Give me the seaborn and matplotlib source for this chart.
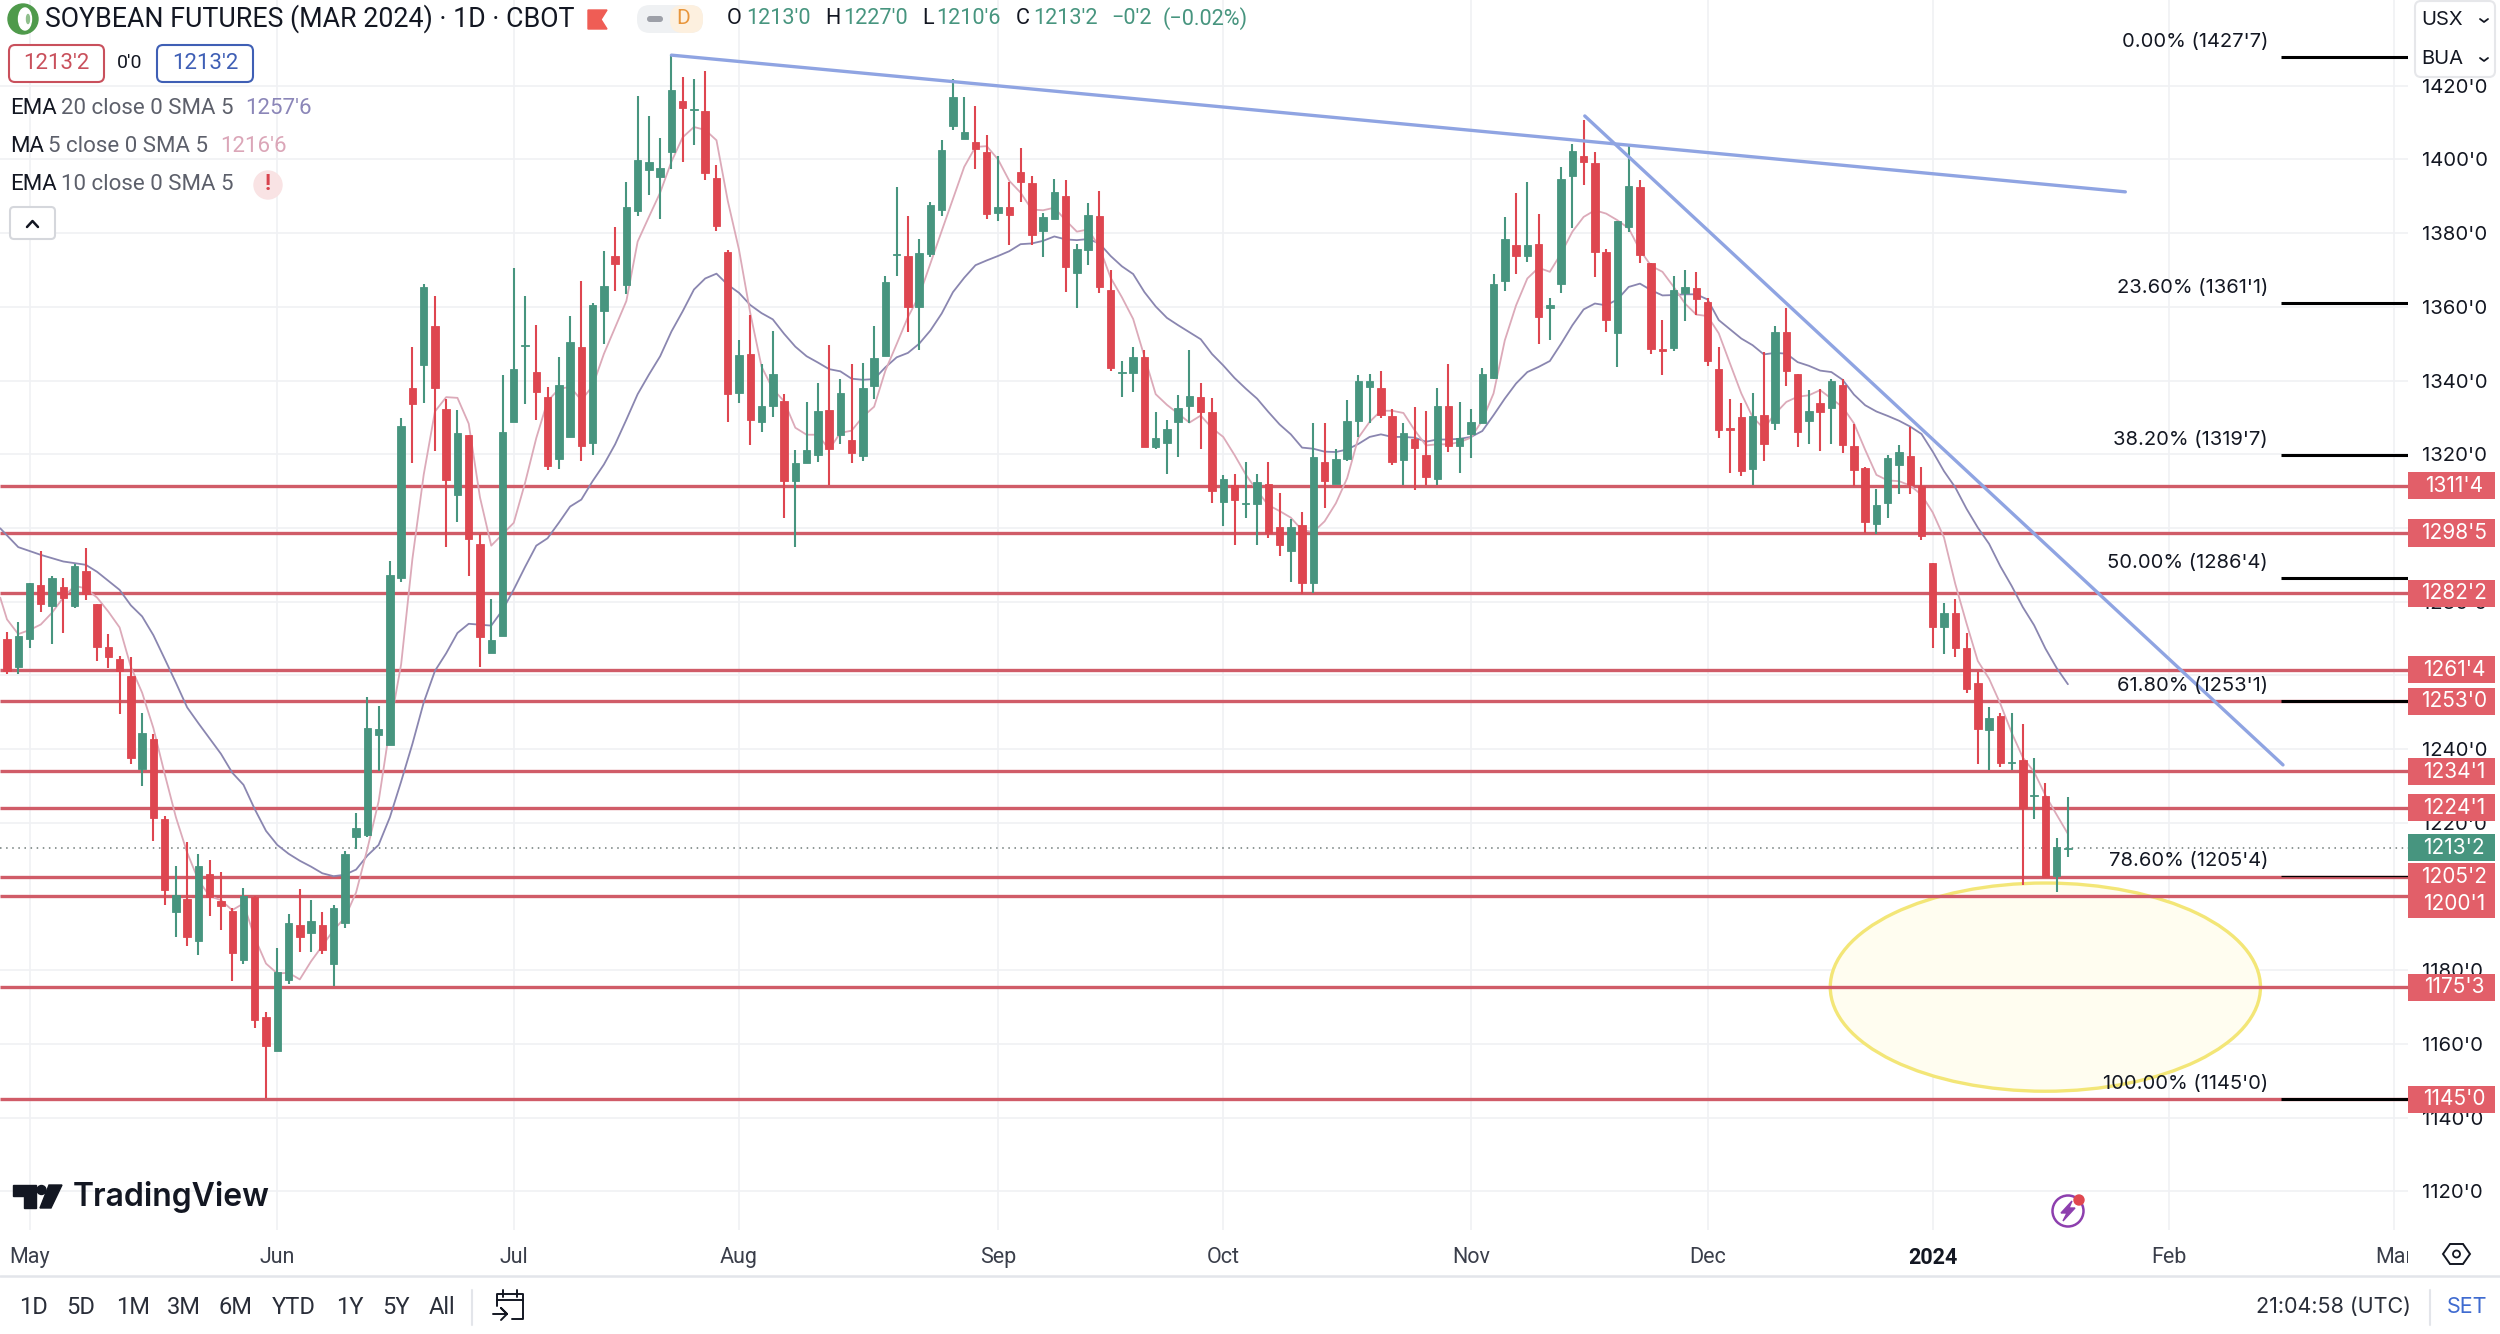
import pandas as pd
import matplotlib.pyplot as plt
import seaborn as sns
from matplotlib.patches import Circle, Ellipse, FancyBboxPatch, Polygon, Rectangle
from matplotlib.transforms import Bbox

# daily bars
opens = [1269.8, 1262.3, 1270.0, 1284.5, 1278.7, 1284.0, 1278.7, 1288.3, 1279.3, 1267.7,
         1264.4, 1259.8, 1234.6, 1242.8, 1221.0, 1195.8, 1199.3, 1188.0, 1206.1, 1198.8,
         1196.0, 1182.7, 1199.8, 1167.3, 1158.0, 1177.3, 1192.3, 1190.0, 1192.3, 1181.6,
         1192.8, 1216.1, 1216.6, 1243.9, 1241.2, 1286.3, 1337.9, 1344.3, 1354.7, 1332.4,
         1308.9, 1325.2, 1295.6, 1266.0, 1270.8, 1328.8, 1349.4, 1342.2, 1335.4, 1318.7,
         1324.6, 1349.0, 1323.0, 1359.0, 1373.9, 1365.9, 1386.0, 1397.0, 1395.2, 1402.1,
         1415.8, 1413.4, 1413.1, 1395.0, 1374.9, 1336.6, 1347.2, 1328.8, 1333.0, 1334.5,
         1312.7, 1317.6, 1319.7, 1331.9, 1325.2, 1323.8, 1319.4, 1338.6, 1346.7, 1374.1,
         1373.8, 1359.9, 1374.3, 1386.4, 1409.1, 1405.6, 1404.7, 1402.1, 1385.4, 1387.2,
         1396.5, 1393.7, 1380.6, 1383.9, 1390.2, 1369.1, 1375.4, 1384.6, 1364.6, 1342.1,
         1342.1, 1346.4, 1322.1, 1323.0, 1328.8, 1333.0, 1335.4, 1331.5, 1307.0, 1311.6,
         1306.6, 1306.4, 1311.8, 1300.3, 1293.8, 1300.9, 1285.0, 1317.8, 1311.8, 1318.7,
         1329.0, 1338.3, 1337.9, 1330.4, 1318.4, 1324.2, 1319.8, 1313.3, 1333.2, 1322.2,
         1325.6, 1328.6, 1340.8, 1366.9, 1376.9, 1373.8, 1377.0, 1359.6, 1366.2, 1395.4,
         1401.0, 1398.9, 1374.9, 1352.8, 1381.7, 1392.6, 1371.9, 1348.6, 1348.9, 1363.8,
         1365.2, 1361.4, 1343.0, 1327.1, 1330.0, 1315.9, 1330.7, 1328.5, 1353.1, 1341.7,
         1328.9, 1333.8, 1332.6, 1338.9, 1322.2, 1316.4, 1301.0, 1306.8, 1317.2, 1319.4,
         1311.4, 1290.4, 1273.2, 1277.0, 1267.3, 1257.9, 1245.2, 1248.9, 1236.3, 1236.9,
         1227.2, 1227.2, 1205.6, 1213.0]
highs = [1271.7, 1274.4, 1285.1, 1293.8, 1287.0, 1286.4, 1290.2, 1294.5, 1279.3, 1271.2,
         1265.2, 1264.9, 1249.9, 1244.1, 1221.8, 1208.3, 1214.9, 1211.5, 1209.9, 1206.7,
         1196.8, 1202.2, 1200.1, 1168.7, 1185.9, 1195.3, 1202.0, 1199.0, 1195.8, 1197.7,
         1212.3, 1222.6, 1254.0, 1251.8, 1291.1, 1329.8, 1349.2, 1366.3, 1362.9, 1334.9,
         1331.9, 1325.2, 1298.3, 1280.7, 1341.4, 1370.5, 1362.9, 1355.1, 1338.3, 1346.5,
         1357.5, 1366.9, 1361.1, 1375.2, 1381.6, 1393.8, 1417.1, 1411.8, 1405.7, 1428.3,
         1422.3, 1421.9, 1423.9, 1398.5, 1375.5, 1351.0, 1357.7, 1344.4, 1353.4, 1336.3,
         1321.2, 1334.2, 1339.2, 1349.6, 1340.5, 1344.4, 1344.7, 1354.7, 1368.4, 1392.4,
         1384.6, 1378.4, 1388.5, 1405.3, 1421.9, 1417.0, 1414.6, 1406.5, 1401.0, 1394.0,
         1403.1, 1395.6, 1385.4, 1394.7, 1394.5, 1377.1, 1388.3, 1391.5, 1369.9, 1345.2,
         1349.0, 1348.3, 1331.5, 1329.2, 1336.1, 1348.2, 1339.4, 1335.2, 1314.3, 1314.7,
         1317.9, 1314.7, 1317.9, 1309.6, 1302.3, 1304.2, 1328.6, 1328.6, 1321.3, 1334.7,
         1341.6, 1341.9, 1342.6, 1332.4, 1328.5, 1332.7, 1331.8, 1338.0, 1344.6, 1334.2,
         1332.4, 1343.5, 1369.0, 1384.4, 1391.0, 1393.9, 1385.1, 1362.5, 1398.0, 1404.2,
         1410.7, 1401.9, 1375.6, 1383.3, 1403.9, 1394.4, 1371.9, 1356.4, 1368.4, 1369.9,
         1369.5, 1362.4, 1349.0, 1335.1, 1333.8, 1336.5, 1347.8, 1354.7, 1359.8, 1341.9,
         1337.4, 1337.7, 1340.5, 1340.5, 1328.3, 1316.5, 1310.5, 1319.7, 1322.6, 1327.3,
         1316.5, 1290.6, 1279.7, 1280.7, 1271.4, 1261.0, 1251.5, 1249.9, 1249.8, 1246.7,
         1237.6, 1230.9, 1215.9, 1227.0]
lows = [1260.4, 1260.4, 1267.5, 1277.1, 1268.4, 1271.4, 1278.2, 1280.4, 1263.9, 1262.1,
        1249.4, 1236.0, 1230.1, 1215.1, 1197.7, 1189.1, 1186.5, 1184.2, 1194.7, 1190.8,
        1177.1, 1181.8, 1164.2, 1145.3, 1158.0, 1176.2, 1185.0, 1184.8, 1184.5, 1175.6,
        1191.5, 1212.9, 1216.2, 1234.0, 1241.2, 1285.2, 1317.6, 1334.0, 1320.8, 1294.7,
        1301.6, 1286.9, 1262.2, 1266.0, 1270.8, 1328.8, 1333.6, 1329.2, 1315.8, 1316.0,
        1324.6, 1318.1, 1319.9, 1350.0, 1364.3, 1363.4, 1384.7, 1390.3, 1383.8, 1397.4,
        1399.4, 1404.0, 1394.4, 1380.5, 1328.8, 1334.0, 1322.4, 1326.0, 1330.1, 1302.7,
        1294.9, 1317.6, 1318.0, 1311.6, 1322.7, 1317.7, 1318.1, 1334.9, 1346.7, 1368.4,
        1353.2, 1348.3, 1373.5, 1384.7, 1408.0, 1405.6, 1397.3, 1383.7, 1383.2, 1376.9,
        1388.5, 1376.7, 1373.6, 1383.9, 1363.9, 1359.7, 1371.3, 1363.7, 1342.5, 1335.6,
        1336.8, 1322.1, 1321.3, 1314.7, 1319.3, 1328.6, 1321.5, 1306.9, 1300.6, 1295.5,
        1302.8, 1295.5, 1297.2, 1292.3, 1285.3, 1282.2, 1282.4, 1305.5, 1311.8, 1318.2,
        1324.7, 1328.5, 1329.9, 1317.2, 1311.6, 1310.2, 1311.6, 1311.6, 1320.6, 1314.9,
        1319.0, 1328.6, 1340.3, 1364.2, 1368.8, 1372.2, 1349.8, 1351.1, 1363.8, 1381.3,
        1393.0, 1368.0, 1353.2, 1343.7, 1380.4, 1371.9, 1347.1, 1341.4, 1348.0, 1356.1,
        1357.7, 1343.9, 1324.5, 1314.9, 1314.2, 1311.6, 1318.1, 1326.7, 1338.5, 1322.0,
        1322.9, 1320.8, 1322.7, 1320.4, 1311.5, 1298.7, 1298.4, 1302.7, 1309.2, 1309.2,
        1296.7, 1267.4, 1265.9, 1264.9, 1255.1, 1236.0, 1234.3, 1235.1, 1234.3, 1203.0,
        1220.9, 1205.3, 1201.1, 1210.75]
closes = [1261.2, 1270.7, 1285.1, 1279.3, 1286.5, 1280.9, 1289.8, 1282.1, 1267.8, 1265.1,
          1261.2, 1237.6, 1244.3, 1221.2, 1201.7, 1200.4, 1188.9, 1208.4, 1199.8, 1197.3,
          1184.7, 1200.1, 1166.4, 1159.5, 1179.4, 1192.9, 1188.9, 1193.3, 1185.5, 1196.9,
          1211.6, 1218.5, 1245.6, 1245.4, 1287.3, 1327.7, 1333.5, 1365.4, 1337.9, 1312.9,
          1325.7, 1296.9, 1270.3, 1269.7, 1326.0, 1343.0, 1349.6, 1336.9, 1316.9, 1338.7,
          1350.4, 1322.2, 1360.6, 1365.6, 1371.7, 1387.0, 1399.8, 1399.4, 1397.7, 1418.9,
          1414.0, 1413.6, 1396.3, 1382.0, 1336.3, 1346.9, 1329.2, 1333.0, 1341.7, 1312.7,
          1317.6, 1321.2, 1331.6, 1321.3, 1336.7, 1320.3, 1338.0, 1346.0, 1366.8, 1374.4,
          1359.9, 1374.7, 1387.7, 1402.6, 1417.0, 1407.5, 1402.8, 1385.2, 1387.2, 1384.9,
          1394.0, 1379.6, 1384.3, 1391.2, 1370.7, 1375.7, 1385.0, 1365.5, 1343.3, 1342.4,
          1346.5, 1322.1, 1324.5, 1326.9, 1332.6, 1335.7, 1331.5, 1310.1, 1313.2, 1307.5,
          1306.9, 1312.5, 1298.7, 1295.5, 1300.3, 1285.0, 1319.3, 1312.7, 1318.7, 1329.0,
          1339.9, 1339.9, 1330.6, 1317.9, 1325.9, 1321.7, 1313.7, 1333.2, 1322.3, 1324.4,
          1328.7, 1341.8, 1366.3, 1378.4, 1373.8, 1376.9, 1357.3, 1360.6, 1394.8, 1402.3,
          1399.3, 1374.9, 1356.3, 1383.2, 1392.8, 1374.0, 1348.5, 1348.0, 1364.5, 1365.4,
          1362.1, 1345.2, 1326.5, 1326.5, 1315.5, 1330.3, 1322.8, 1353.1, 1342.7, 1326.1,
          1331.8, 1331.5, 1339.9, 1322.4, 1315.6, 1301.6, 1306.2, 1319.0, 1320.5, 1311.6,
          1297.9, 1273.2, 1276.9, 1267.4, 1256.2, 1245.4, 1248.4, 1236.1, 1236.6, 1224.1,
          1227.5, 1205.3, 1213.4, 1213.25]

ema_x = [-0.6, 1, 3, 5, 7, 8, 10, 11, 12, 13, 14, 15, 16, 17, 19, 20, 21, 22, 23, 24, 25, 26, 27, 28, 29,
         30, 31, 32, 33, 34, 35, 36, 37, 38, 39, 40, 41, 43, 44, 45, 46, 47, 48, 49, 50, 51, 52, 53, 54,
         55, 56, 57, 58, 59, 60, 61, 62, 63, 64, 65, 66, 67, 68, 69, 70, 71, 72, 73, 74, 75, 76, 77, 78,
         79, 80, 81, 82, 83, 84, 85, 86, 87, 88, 89, 90, 91, 92, 93, 94, 95, 96, 97, 98, 99, 100, 101,
         102, 103, 104, 105, 106, 107, 108, 109, 110, 111, 112, 113, 114, 115, 116, 117, 118, 119, 120,
         121, 122, 123, 124, 125, 126, 127, 128, 129, 130, 131, 132, 133, 134, 135, 136, 137, 138, 139,
         140, 141, 142, 143, 144, 145, 146, 147, 148, 149, 150, 151, 152, 154, 155, 156, 157, 158, 159,
         160, 161, 162, 163, 164, 165, 166, 167, 168, 169, 170, 171, 172, 173, 174, 175, 176, 177, 178,
         179, 180, 181, 182, 183]
ema20 = [1299.9, 1294.8, 1292.7, 1290.9, 1290.0, 1288.1, 1283.2, 1279.0, 1276.0, 1270.9, 1264.5, 1258.0,
         1251.3, 1247.0, 1238.7, 1233.6, 1230.3, 1223.7, 1217.8, 1214.0, 1211.6, 1209.7, 1208.1, 1206.3,
         1205.5, 1205.9, 1207.3, 1211.1, 1214.0, 1221.5, 1231.2, 1241.4, 1252.6, 1261.2, 1266.0, 1271.5,
         1274.0, 1273.5, 1277.7, 1283.3, 1289.4, 1295.2, 1297.2, 1301.4, 1305.8, 1307.7, 1312.7, 1317.2,
         1322.7, 1329.4, 1336.3, 1341.6, 1346.6, 1353.3, 1358.8, 1364.7, 1367.7, 1369.0, 1366.0, 1363.8,
         1360.5, 1358.3, 1356.6, 1352.7, 1349.2, 1346.6, 1344.9, 1343.1, 1342.5, 1340.5, 1340.2, 1340.4,
         1343.6, 1346.3, 1347.5, 1350.0, 1353.6, 1358.2, 1364.0, 1367.9, 1371.3, 1372.6, 1373.8, 1375.1,
         1377.0, 1377.2, 1377.9, 1379.1, 1378.3, 1378.1, 1378.4, 1377.2, 1373.8, 1371.0, 1368.9, 1364.0,
         1360.1, 1357.0, 1355.0, 1353.1, 1351.2, 1347.2, 1344.1, 1340.7, 1337.8, 1335.1, 1331.5, 1328.1,
         1325.4, 1321.8, 1321.5, 1320.7, 1320.6, 1321.3, 1322.8, 1324.7, 1325.4, 1324.7, 1324.7, 1324.5,
         1323.4, 1324.0, 1324.0, 1324.2, 1324.7, 1326.3, 1330.6, 1335.1, 1339.2, 1342.3, 1343.7, 1345.3,
         1350.0, 1355.0, 1359.3, 1360.9, 1360.4, 1362.0, 1365.4, 1366.3, 1364.5, 1363.1, 1363.2, 1363.4,
         1363.4, 1362.0, 1356.4, 1351.4, 1349.6, 1347.1, 1347.5, 1347.3, 1345.0, 1344.0, 1342.7, 1342.3,
         1340.2, 1336.2, 1333.3, 1331.6, 1330.4, 1329.1, 1327.5, 1325.5, 1320.7, 1315.4, 1311.0, 1305.2,
         1300.1, 1295.7, 1289.6, 1284.3, 1278.5, 1273.6, 1267.3, 1262.0, 1257.6]

ma_x = [-0.6] + list(range(0, 184))
ma5 = [1281.1, 1275.2, 1271.2, 1272.3, 1273.8, 1277.0, 1281.1, 1284.3, 1283.6, 1281.1, 1277.3,
       1273.0, 1262.3, 1255.3, 1245.7, 1233.3, 1221.5, 1211.9, 1204.4, 1200.1, 1199.0,
       1196.3, 1198.1, 1188.8, 1181.8, 1179.1, 1179.3, 1177.5, 1182.4, 1186.6, 1190.9,
       1194.2, 1201.1, 1212.9, 1225.8, 1246.0, 1263.0, 1291.6, 1314.4, 1331.6, 1335.5,
       1335.3, 1328.3, 1308.3, 1295.2, 1298.3, 1301.4, 1312.2, 1324.4, 1334.4, 1337.7,
       1338.3, 1334.7, 1338.5, 1347.2, 1354.4, 1361.6, 1377.7, 1384.4, 1391.0, 1399.4,
       1406.0, 1408.8, 1408.0, 1405.2, 1388.8, 1375.5, 1358.3, 1343.8, 1337.7, 1334.4,
       1327.2, 1325.3, 1325.3, 1321.3, 1325.8, 1326.4, 1330.2, 1332.9, 1342.7, 1349.9,
       1357.2, 1363.0, 1371.8, 1380.6, 1389.3, 1398.0, 1403.4, 1403.6, 1400.0, 1394.2,
       1391.0, 1386.4, 1386.2, 1386.9, 1383.5, 1380.4, 1381.0, 1376.2, 1367.9, 1362.6,
       1356.7, 1346.5, 1336.3, 1333.4, 1331.0, 1328.6, 1330.5, 1327.1, 1324.7, 1319.8,
       1314.5, 1310.1, 1306.2, 1304.6, 1302.8, 1299.4, 1298.9, 1301.8, 1306.7, 1313.5,
       1324.5, 1328.8, 1331.8, 1331.8, 1331.2, 1326.5, 1322.4, 1322.7, 1322.7, 1323.3,
       1324.5, 1329.2, 1336.5, 1350.9, 1360.4, 1367.7, 1370.6, 1369.5, 1374.5, 1380.4,
       1384.4, 1386.2, 1385.3, 1383.5, 1381.3, 1375.4, 1371.1, 1369.5, 1365.4, 1360.9,
       1357.9, 1357.5, 1352.8, 1344.6, 1336.5, 1330.1, 1327.0, 1331.0, 1334.2, 1335.6,
       1336.0, 1337.4, 1335.1, 1332.8, 1328.4, 1321.2, 1314.4, 1312.9, 1312.7, 1311.5,
       1309.0, 1304.2, 1297.4, 1284.8, 1274.1, 1263.9, 1259.1, 1252.3, 1244.5, 1237.7,
       1233.8, 1227.5, 1222.2, 1217.0]

level_prices = [1311.5, 1298.625, 1282.25, 1261.5, 1253.0, 1234.125, 1224.125, 1205.25, 1200.125, 1175.375, 1145.0]
level_labels = ["1311'4", "1298'5", "1282'2", "1261'4", "1253'0", "1234'1", "1224'1", "1205'2", "1200'1", "1175'3", "1145'0"]
level_tag_y = [1311.5, 1298.625, 1282.25, 1261.5, 1253.0, 1233.9, 1224.125, 1205.25, 1197.9, 1175.375, 1145.0]

fib_prices = [1427.875, 1361.125, 1319.875, 1286.5, 1253.125, 1205.5, 1145.0]
fib_labels = ["0.00% (1427'7)", "23.60% (1361'1)", "38.20% (1319'7)", "50.00% (1286'4)",
              "61.80% (1253'1)", "78.60% (1205'4)", "100.00% (1145'0)"]

trend_x = [[59, 188.1], [140.1, 202.1]]
trend_y = [[1428.3, 1391.2], [1411.8, 1235.7]]

month_bars = [2, 24, 45, 65, 88, 108, 130, 151, 171, 192, 212]
month_labels = ["May", "Jun", "Jul", "Aug", "Sep", "Oct", "Nov", "Dec", "2024", "Feb", "Mar"]
price_ticks = list(range(1120, 1421, 20))
last_price = 1213.25

range_labels = ["1D", "5D", "1M", "3M", "6M", "YTD", "1Y", "5Y", "All"]
range_x = [33, 81, 133, 184, 236, 294, 350, 396, 442]

GREEN = "#47957f"
RED = "#de4650"
LEVEL = "#d05c68"
TAG = "#e25f69"
BLUE = "#8fa4e2"
PINK = "#dcaab9"
PURPLE = "#8a86b0"
INK = "#131722"
GREY = "#5d606b"

sns.set_theme(style="white")
plt.rcParams["font.family"] = ["Inter", "DejaVu Sans"]

df = pd.DataFrame({"open": opens, "high": highs, "low": lows, "close": closes})
df["bar"] = df.index
df["top"] = df[["open", "close"]].max(axis=1)
df["bot"] = df[["open", "close"]].min(axis=1)
df["color"] = [GREEN if c >= o else RED for o, c in zip(df["open"], df["close"])]

W, H = 2500, 1334
fig = plt.figure(figsize=(25, 13.34), dpi=100, facecolor="white")
ax = fig.add_axes([0, (H - 1230) / H, 2408 / W, 1230 / H], zorder=1)
ax.set_xlim(-0.62, 213.2)
ax.set_ylim(1109.5, 1443.26)

# grid
ax.set_xticks(month_bars)
ax.set_xticklabels(month_labels, fontsize=15.5, color="#3a3e4a", family="Roboto")
ax.set_yticks(price_ticks)
ax.set_yticklabels([f"{p}'0" for p in price_ticks], fontsize=14.6, color=INK)
ax.yaxis.tick_right()
ax.tick_params(axis="x", length=0, pad=12)
ax.tick_params(axis="y", length=0, pad=10)
ax.grid(True, color="#f0f1f4", lw=1.2)
ax.set_axisbelow(True)
for spine in ax.spines.values():
    spine.set_visible(False)
clip = Bbox([[0, 0], [2408, H]])
for lab in ax.get_xticklabels():
    lab.set_clip_box(clip)
    lab.set_clip_on(True)
    if lab.get_text() == "2024":
        lab.set_fontweight("bold")
        lab.set_color(INK)

# target ellipse
ax.add_patch(Ellipse((181, 1175.4), 38.2, 56.5, facecolor="#fffdf0", edgecolor="none", zorder=1.5))
ax.add_patch(Ellipse((181, 1175.4), 38.2, 56.5, facecolor="none", edgecolor="#f3e677", lw=2.4, zorder=1.6))

# support and resistance
ax.hlines(level_prices, -0.62, 213.2, color=LEVEL, lw=2.4, zorder=2)
ax.hlines(last_price, -0.62, 213.2, color="#6f7a78", lw=1.1, linestyles=(0, (1, 3)), zorder=2.1)

# moving averages
sns.lineplot(x=ema_x, y=ema20, color=PURPLE, lw=1.3, sort=False, estimator=None, ax=ax, zorder=3)
sns.lineplot(x=ma_x, y=ma5, color=PINK, lw=1.3, sort=False, estimator=None, ax=ax, zorder=3)

# candles
ax.vlines(df["bar"], df["low"], df["high"], colors=df["color"], lw=1.5, zorder=4)
ax.bar(df["bar"], df["top"] - df["bot"], bottom=df["bot"], width=0.66, color=df["color"],
       edgecolor=df["color"], lw=0.6, zorder=4.1)

# trend lines
for tx, ty in zip(trend_x, trend_y):
    ax.plot(tx, ty, color=BLUE, lw=2.4, solid_capstyle="round", zorder=5)

# fib levels
ytrans = ax.get_yaxis_transform()
for i, (p, lab) in enumerate(zip(fib_prices, fib_labels)):
    ax.plot([2281 / 2408, 1], [p, p], transform=ytrans, color="black", lw=0.9 if i == 5 else 2.2, zorder=5,
            solid_capstyle="butt")
    ax.text(2268 / 2408, p + 4.1, lab, transform=ytrans, ha="right", va="center", fontsize=14.5, color=INK, zorder=6)

# price tags on the axis
tag_w = 87 / 2408
for p, lab in zip(level_tag_y, level_labels):
    ax.add_patch(Rectangle((1, p - 3.7), tag_w, 7.4, transform=ytrans, facecolor=TAG, edgecolor="none",
                           clip_on=False, zorder=7))
    ax.text(1 + 46 / 2408, p, lab, transform=ytrans, ha="center", va="center", fontsize=15, color="white",
            clip_on=False, zorder=8)
ax.add_patch(Rectangle((1, last_price - 3.7), tag_w, 7.4, transform=ytrans, facecolor=GREEN, edgecolor="none",
                       clip_on=False, zorder=7))
ax.text(1 + 46 / 2408, last_price, "1213'2", transform=ytrans, ha="center", va="center", fontsize=15,
        color="white", clip_on=False, zorder=8)

# everything around the chart, in pixels
ui = fig.add_axes([0, 0, 1, 1], zorder=5)
ui.set_xlim(0, W)
ui.set_ylim(H, 0)
ui.axis("off")
ui.patch.set_alpha(0)


def box(x0, y0, x1, y1, fc="white", ec="none", lw=1.5, r=5):
    ui.add_patch(FancyBboxPatch((x0 + r, y0 + r), x1 - x0 - 2 * r, y1 - y0 - 2 * r, boxstyle=f"round,pad={r}",
                                facecolor=fc, edgecolor=ec, lw=lw))


def label(x, y, s, size=15.5, color=INK, ha="left", **kw):
    kw.setdefault("family", "Roboto")
    ui.text(x, y, s, fontsize=size, color=color, ha=ha, va="center", **kw)


# header
ui.add_patch(Circle((23, 19), 15, color="#4f9a4b"))
ui.add_patch(Ellipse((25, 19), 13, 22, color="white"))
ui.add_patch(Ellipse((28, 19), 3, 9, color="#8fbf8c"))
label(45, 19, "SOYBEAN FUTURES (MAR 2024) · 1D · CBOT", size=19.3)
ui.add_patch(Polygon([(588, 10), (607, 10), (601, 19.5), (607, 29), (588, 29)], color="#ef5d55"))
box(637, 5, 703, 33, fc="#eff1f3", r=13)
box(670, 5, 703, 33, fc="#fdf0df", r=13)
box(647, 16, 663, 22, fc="#9da0a8", r=3)
label(683, 19, "D", size=15, color="#e8963c", ha="center")
for x, s, c in [(727, "O", INK), (746, "1213'0", GREEN), (825, "H", INK), (843, "1227'0", GREEN), (922, "L", INK),
                (936.5, "1210'6", GREEN), (1015.6, "C", INK), (1033, "1213'2", GREEN),
                (1111.6, "−0'2", GREEN), (1163, "(−0.02%)", GREEN)]:
    label(x, 19, s, size=15.6, color=c)

box(9, 45, 104, 82, ec="#c9505c", r=6)
label(56.5, 63.5, "1213'2", size=16, color="#c9505c", ha="center")
label(130, 63.5, "0'0", size=14, ha="center")
box(157, 45, 253, 82, ec="#3f5fb5", r=6)
label(205, 63.5, "1213'2", size=16, color="#3f5fb5", ha="center")

label(10, 108, "EMA", size=16)
label(61, 108, "20 close 0 SMA 5", size=16, color=GREY)
label(245, 108, "1257'6", size=16, color="#8b86b8")
label(10, 147, "MA", size=16)
label(48, 147, "5 close 0 SMA 5", size=16, color=GREY)
label(220, 147, "1216'6", size=16, color="#dba6b8")
label(10, 185, "EMA", size=16)
label(61, 185, "10 close 0 SMA 5", size=16, color=GREY)
ui.add_patch(Circle((268, 185), 14, color="#f9e3e4"))
label(268, 184, "!", size=16, color="#d8434e", ha="center", fontweight="bold")
box(10, 207, 55, 239, ec="#d5d7dc", r=4)
ui.plot([27, 32.5, 38], [227, 221, 227], color=INK, lw=1.8)

# currency box
box(2415, 1, 2495, 77, ec="#e6e7ea", r=6)
label(2421, 20, "USX", size=14.5, family="Inter")
label(2421, 59, "BUA", size=14.5, family="Inter")
for yc in (20, 59):
    ui.plot([2480, 2484, 2488], [yc - 1, yc + 2, yc - 1], color=INK, lw=1.3)

# logo
ui.add_patch(Polygon([(13, 1185), (36, 1185), (36, 1208), (24, 1208), (24, 1196), (13, 1196)], color=INK))
ui.add_patch(Circle((41.5, 1190), 4.5, color=INK))
ui.add_patch(Polygon([(49, 1185), (62, 1185), (51, 1208), (40, 1208)], color=INK))
label(73, 1197, "TradingView", size=23, fontweight="semibold", family="Inter")

# bolt badge
ui.add_patch(Circle((2068, 1211), 15.5, facecolor="none", edgecolor="#8d3fae", lw=1.8))
ui.add_patch(Polygon([(2072, 1201), (2061, 1213), (2067, 1213), (2063, 1221), (2075, 1208), (2069, 1208)], color="#8d3fae"))
ui.add_patch(Circle((2079, 1200), 5, color="#e0474f"))

# bottom bar
ui.plot([0, W], [1276, 1276], color="#e3e5ea", lw=1.8)
for x, s in zip(range_x, range_labels):
    label(x, 1308, s, size=17, color="#2a2e39", ha="center")
ui.plot([472, 472], [1290, 1325], color="#e3e5ea", lw=1.5)
ui.plot([497, 497, 523, 523, 512], [1306, 1294, 1294, 1319, 1319], color=INK, lw=1.4)
ui.plot([497, 523], [1300, 1300], color=INK, lw=1.4)
ui.plot([503, 503], [1290, 1297], color=INK, lw=1.4)
ui.plot([517, 517], [1290, 1297], color=INK, lw=1.4)
ui.plot([493, 507, 501, 507, 501], [1314, 1314, 1308, 1314, 1320], color=INK, lw=1.4)
label(2411, 1307, "21:04:58 (UTC)", size=15.5, color="#2a2e39", ha="right", family="Inter")
ui.plot([2430, 2430], [1290, 1325], color="#e3e5ea", lw=1.5)
label(2467, 1307, "SET", size=15.5, color="#3f6bd0", ha="center", family="Inter")
ui.add_patch(Polygon([(2443, 1254), (2450, 1244), (2463, 1244), (2470, 1254), (2463, 1264), (2450, 1264)],
                     facecolor="none", edgecolor=INK, lw=1.4))
ui.add_patch(Circle((2456.5, 1254), 3.5, facecolor="none", edgecolor=INK, lw=1.3))

fig.savefig("out.png", dpi=100)
